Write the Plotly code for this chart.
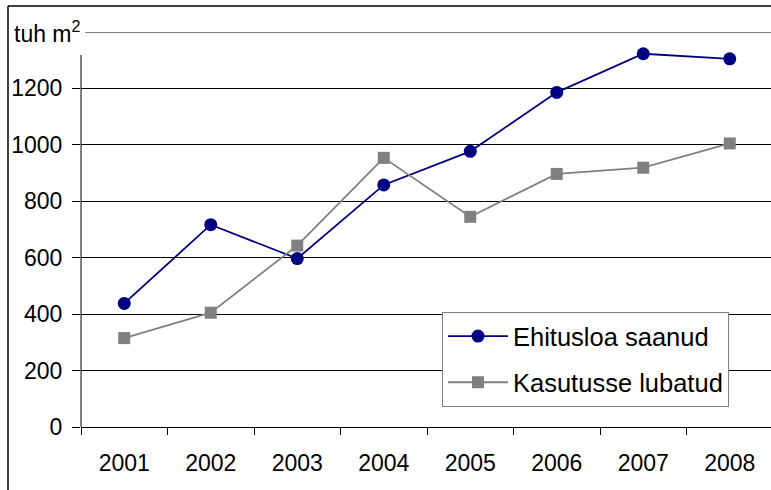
import plotly.graph_objects as go

years = ["2001", "2002", "2003", "2004", "2005", "2006", "2007", "2008"]
ehitusloa = [438, 717, 597, 858, 977, 1186, 1323, 1305]
kasutusse = [315, 405, 643, 954, 745, 897, 919, 1005]
y_ticks = [0, 200, 400, 600, 800, 1000, 1200]

W, H = 771, 490
ML, MR, MT, MB = 81, 0, 32, 63
PW, PH = W - ML - MR, H - MT - MB
YMAX = 1400

def px_x(px):
    return (px - ML) / PW

def px_y(py):
    return (H - MB - py) / PH

fig = go.Figure()
fig.add_trace(go.Scatter(
    x=years, y=ehitusloa, name="Ehitusloa saanud", mode="lines+markers",
    line=dict(color="#000080", width=1.8),
    marker=dict(symbol="circle", size=13, color="#000080"),
    legendgroup="a",
))
fig.add_trace(go.Scatter(
    x=years, y=kasutusse, name="Kasutusse lubatud", mode="lines+markers",
    line=dict(color="#808080", width=1.8),
    marker=dict(symbol="square", size=12, color="#808080"),
    legendgroup="b",
))

font = "Liberation Sans, Arial, sans-serif"
fig.update_layout(
    width=W, height=H,
    margin=dict(l=ML, r=MR, t=MT, b=MB, pad=0),
    paper_bgcolor="white", plot_bgcolor="white",
    font=dict(family=font, size=23, color="black"),
    showlegend=True,
    legend=dict(
        x=px_x(442), y=px_y(312), xanchor="left", yanchor="top",
        bgcolor="white", bordercolor="#808080", borderwidth=1,
        font=dict(size=25.5, family=font, color="black"),
        traceorder="grouped", tracegroupgap=10, itemwidth=60,
    ),
    xaxis=dict(
        type="category", range=[-0.5, 7.5 - 2 / 86.5],
        showgrid=False, showline=True, linecolor="black", linewidth=1,
        ticks="outside", ticklen=7, tickcolor="black", tickwidth=1,
        tickson="boundaries", ticklabelstandoff=15,
        tickfont=dict(size=23), zeroline=False, fixedrange=True,
    ),
    yaxis=dict(
        range=[0, YMAX], tickvals=y_ticks,
        showgrid=True, gridcolor="black", gridwidth=1,
        showline=False, zeroline=False,
        ticks="outside", ticklen=8, tickcolor="black", tickwidth=1,
        ticklabelstandoff=5, tickfont=dict(size=23), fixedrange=True,
    ),
)

shapes = []
# top line (1400 level)
shapes.append(dict(type="line", xref="paper", yref="y", x0=px_x(85), x1=1, y0=YMAX, y1=YMAX,
                   line=dict(color="black", width=1)))
# y axis line
shapes.append(dict(type="line", xref="paper", yref="paper", x0=0, x1=0, y0=0, y1=px_y(55),
                   line=dict(color="black", width=1)))
# outer frame
shapes.append(dict(type="line", xref="paper", yref="paper", x0=px_x(8), x1=px_x(8), y0=px_y(6), y1=px_y(H + 5),
                   line=dict(color="black", width=1.5)))
shapes.append(dict(type="line", xref="paper", yref="paper", x0=px_x(8), x1=px_x(W + 5), y0=px_y(6), y1=px_y(6),
                   line=dict(color="black", width=1.5)))
fig.update_layout(shapes=shapes)

fig.add_annotation(
    x=px_x(12), y=px_y(32), xref="paper", yref="paper", xanchor="left", yanchor="middle",
    text="tuh m<sup>2</sup>", showarrow=False, font=dict(size=23, family=font, color="black"),
)

fig.write_html(
    "out.html",
    config={"displayModeBar": False},
    post_script="document.body.style.margin='0';document.body.style.overflow='hidden';",
)
